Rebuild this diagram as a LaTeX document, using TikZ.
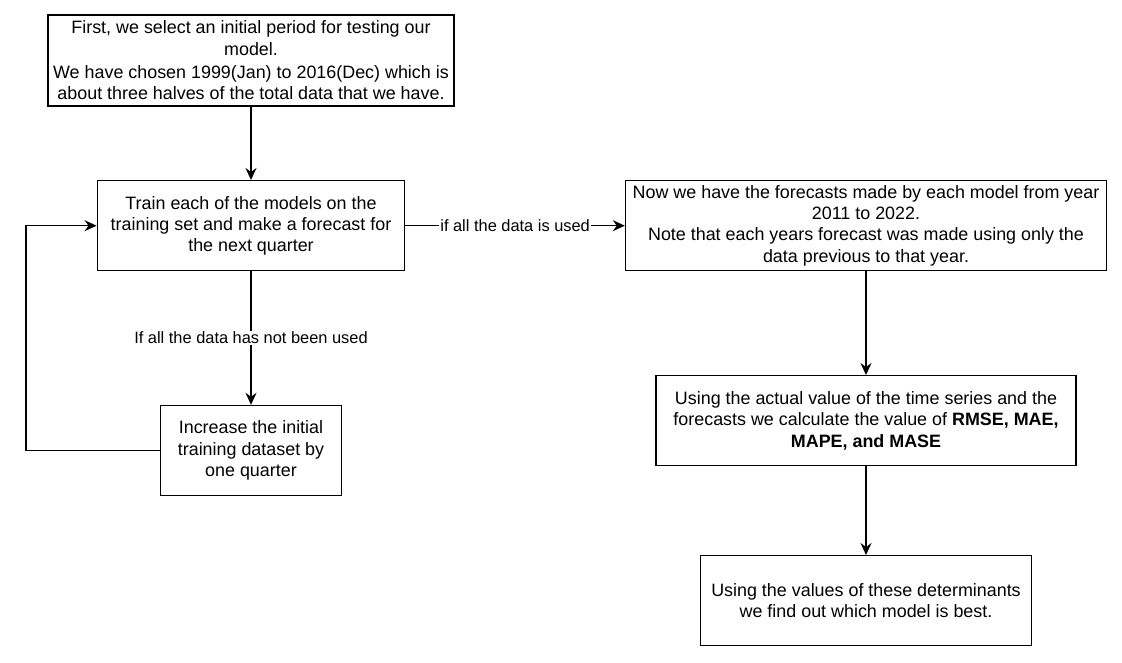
\documentclass[tikz,border=0pt]{standalone}
\usepackage{fontspec}
\setmainfont{Liberation Sans}
\usetikzlibrary{arrows.meta}
\begin{document}
\begin{tikzpicture}[x=1pt,y=-1pt,
  box/.style={draw, line width=1.4pt, inner sep=0pt, align=center,
    font=\fontsize{17.9}{21.3}\selectfont},
  conn/.style={line width=1.4pt, -{Stealth[length=12pt,width=11pt,inset=4pt]}},
  lbl/.style={fill=white, inner sep=1pt, font=\fontsize{16.4}{19}\selectfont}]
\useasboundingbox (0,0) rectangle (1122,662);
\node[box, minimum width=406pt, minimum height=91pt] (b1) at (251,60.5)
  {First, we select an initial period for testing our\\ model.\\[2pt]
   We have chosen 1999(Jan) to 2016(Dec) which is\\
   about three halves of the total data that we have.};
\node[box, minimum width=307.5pt, minimum height=90pt] (b2) at (251,225.7)
  {Train each of the models on the\\ training set and make a forecast for\\ the next quarter};
\node[box, minimum width=481pt, minimum height=90pt] (b3) at (866,225.7)
  {Now we have the forecasts made by each model from year\\ 2011 to 2022.\\
   Note that each years forecast was made using only the\\ data previous to that year.};
\node[box, minimum width=180.5pt, minimum height=90pt] (b4) at (251,450.5)
  {Increase the initial\\ training dataset by\\ one quarter};
\node[box, minimum width=420.3pt, minimum height=90pt] (b5) at (866,420.7)
  {Using the actual value of the time series and the\\
   forecasts we calculate the value of \textbf{RMSE, MAE,}\\ \textbf{MAPE, and MASE}};
\node[box, minimum width=330.7pt, minimum height=90pt] (b6) at (866,600.7)
  {Using the values of these determinants\\ we find out which model is best.};
\coordinate (loopc) at (26,0);
\draw[conn] (b1.south) -- (b2.north);
\draw[conn] (b2.south) -- node[lbl] {If all the data has not been used} (b4.north);
\draw[conn] (b4.west) -- (b4.west -| loopc) |- (b2.west);
\draw[conn] (b2.east) -- node[lbl] {if all the data is used} (b3.west);
\draw[conn] (b3.south) -- (b5.north);
\draw[conn] (b5.south) -- (b6.north);
\end{tikzpicture}
\end{document}
